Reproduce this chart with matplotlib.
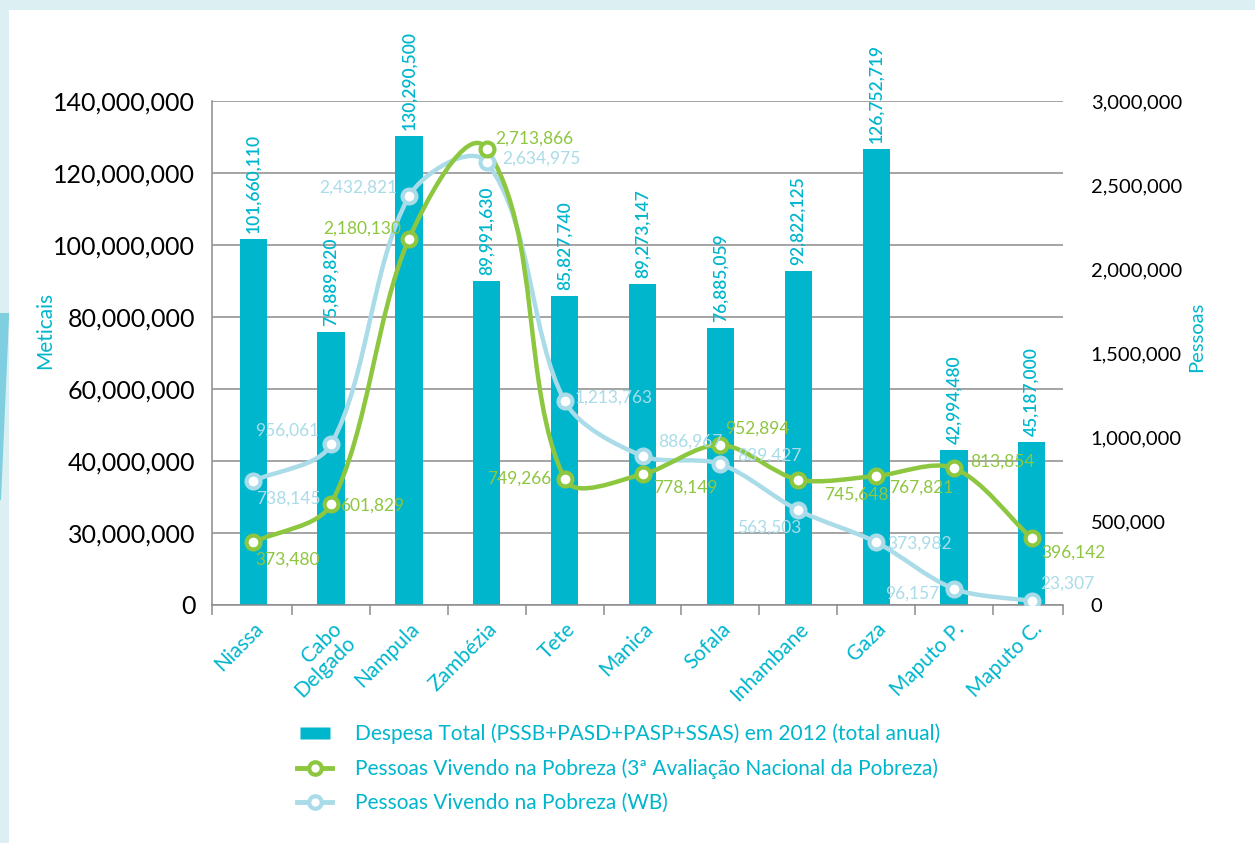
import matplotlib
matplotlib.use('Agg')
import numpy as np
import matplotlib.pyplot as plt
from matplotlib.path import Path
from matplotlib.patches import PathPatch, Rectangle, Polygon
from matplotlib.lines import Line2D

plt.rcParams['font.family'] = ['Lato', 'DejaVu Sans']

# Province data
provincias = ['Niassa', 'Cabo\nDelgado', 'Nampula', 'Zambézia', 'Tete', 'Manica',
              'Sofala', 'Inhambane', 'Gaza', 'Maputo P.', 'Maputo C.']
despesa = [101660110, 75889820, 130290500, 89991630, 85827740, 89273147,
           76885059, 92822125, 126752719, 42994480, 45187000]
pobreza_ian = [373480, 601829, 2180130, 2713866, 749266, 778149,
               952894, 745648, 767821, 813854, 396142]
pobreza_wb = [738145, 956061, 2432821, 2634975, 1213763, 886967,
              839427, 563503, 373982, 96157, 23307]

left_ticks = [0, 20e6, 40e6, 60e6, 80e6, 100e6, 120e6, 140e6]
left_tick_labels = ['0', '30,000,000', '40,000,000', '60,000,000', '80,000,000',
                    '100,000,000', '120,000,000', '140,000,000']
right_ticks = [0, 500000, 1000000, 1500000, 2000000, 2500000, 3000000]

# label offsets (pixels) and alignment for each point label
off_ian = [(2, -17, 'left'), (9, -2, 'left'), (-8, 10, 'right'), (8, 10, 'left'),
           (-13, 0, 'right'), (11, -13, 'left'), (5, 16, 'left'), (26, -15, 'left'),
           (13, -12, 'left'), (16, 7, 'left'), (9, -14, 'left')]
off_wb = [(3, -18, 'left'), (-12, 14, 'right'), (-12, 9, 'right'), (15, 4, 'left'),
          (10, 3, 'left'), (16, 14, 'left'), (17, 8, 'left'), (3, -17, 'right'),
          (11, -1, 'left'), (-15, -5, 'right'), (8, 17, 'left')]

CYAN = '#00b6cd'
GREEN = '#8dc63f'
LIGHT = '#a9dce8'
GRID = '#8c8c8c'


def smooth_path(axis, xs, ys, t=0.3):
    # cubic Bezier through the points, built in screen space so the
    # control arms follow the drawn segment lengths
    pts = axis.transData.transform(np.column_stack([xs, ys]))
    n = len(pts)

    def unit(v):
        d = np.hypot(*v)
        return v / d if d else v

    verts = [pts[0]]
    codes = [Path.MOVETO]
    for i in range(n - 1):
        p0, p1 = pts[i], pts[i + 1]
        seg = np.hypot(*(p1 - p0))
        d0 = unit(p1 - pts[i - 1]) if i > 0 else unit(p1 - p0)
        d1 = unit(pts[i + 2] - p0) if i + 2 < n else unit(p1 - p0)
        verts += [p0 + t * seg * d0, p1 - t * seg * d1, p1]
        codes += [Path.CURVE4] * 3
    verts = axis.transData.inverted().transform(np.array(verts))
    return Path(verts, codes)


W, H = 1255, 843
fig = plt.figure(figsize=(W / 100, H / 100), dpi=100)
fig.patch.set_facecolor('#dcf0f4')
fig.add_artist(Rectangle((9 / W, 0), 1, (H - 10) / H, transform=fig.transFigure,
                         facecolor='white', edgecolor='none', zorder=-5))
fig.add_artist(Polygon([(0, 1 - 313 / H), (9 / W, 1 - 313 / H), (9 / W, 1 - 318 / H),
                        (1 / W, 1 - 500 / H), (0, 1 - 500 / H)], closed=True,
                       transform=fig.transFigure, facecolor='#7fcfe0',
                       edgecolor='none', zorder=-4))

ax = fig.add_axes([212 / W, 238 / H, 851 / W, 504 / H])
ax.patch.set_alpha(0)
x = list(range(len(provincias)))

# bars
ax.bar(x, despesa, width=0.35, color=CYAN, zorder=2)
for xi, v in zip(x, despesa):
    ax.annotate(f'{v:,}', (xi, v), xytext=(0, 6), textcoords='offset pixels',
                rotation=90, ha='center', va='bottom', color=CYAN, fontsize=12.5,
                fontweight='semibold')

ax.set_xlim(-0.53, 10.4)
ax.set_ylim(0, 140e6)
ax.set_yticks(left_ticks)
ax.set_yticklabels(left_tick_labels)
ax.tick_params(axis='y', length=0, pad=12, labelsize=18, labelcolor='black')
ax.yaxis.grid(True, color=GRID, lw=1.1, zorder=0)
ax.set_axisbelow(True)

ax.set_xticks(x)
ax.set_xticklabels(provincias, rotation=45, ha='right', rotation_mode='anchor',
                   color=CYAN, fontsize=15, linespacing=0.95)
ax.tick_params(axis='x', which='major', length=0, pad=10)
ax.set_xticks([-0.53] + [i + 0.5 for i in range(10)] + [10.4], minor=True)
ax.tick_params(axis='x', which='minor', length=7, color=GRID, width=1.1)

for s in ['top', 'right']:
    ax.spines[s].set_visible(False)
for s in ['left', 'bottom']:
    ax.spines[s].set_color(GRID)
    ax.spines[s].set_linewidth(1.1)

# people living in poverty, right axis
ax2 = ax.twinx()
ax2.set_xlim(-0.53, 10.4)
ax2.set_ylim(0, 3e6)
ax2.set_yticks(right_ticks)
ax2.set_yticklabels([f'{t:,}' for t in right_ticks])
ax2.tick_params(axis='y', length=0, pad=20, labelsize=14.5, labelcolor='black')
for s in ax2.spines.values():
    s.set_visible(False)

for vals, col, offs in [(pobreza_wb, LIGHT, off_wb), (pobreza_ian, GREEN, off_ian)]:
    ax2.add_patch(PathPatch(smooth_path(ax2, x, vals), fill=False, edgecolor=col,
                            lw=3.2, capstyle='round', zorder=3))
    ax2.plot(x, vals, 'o', ls='none', ms=10, mfc='white', mec=col, mew=3, zorder=4)
    for xi, v, (dx, dy, ha) in zip(x, vals, offs):
        ax2.annotate(f'{v:,}', (xi, v), xytext=(dx, dy), textcoords='offset pixels',
                     ha=ha, va='center', color=col, fontsize=12.5, zorder=5)

fig.text(45 / W, 1 - 330 / H, 'Meticais', rotation=90, color=CYAN, fontsize=15,
         ha='center', va='center')
fig.text(1197 / W, 1 - 337 / H, 'Pessoas', rotation=90, color=CYAN, fontsize=14.5,
         ha='center', va='center')

# legend: small flat rectangle for the bars, line + ring for the series
bar_marker = [(-1.2, -0.5), (1.2, -0.5), (1.2, 0.5), (-1.2, 0.5), (-1.2, -0.5)]
handles = [
    Line2D([], [], ls='none', marker=bar_marker, ms=21, mfc=CYAN, mec='none'),
    Line2D([], [], color=GREEN, lw=3.5, marker='o', ms=9, mfc='white', mec=GREEN, mew=3),
    Line2D([], [], color=LIGHT, lw=3.5, marker='o', ms=9, mfc='white', mec=LIGHT, mew=3),
]
labels = ['Despesa Total (PSSB+PASD+PASP+SSAS) em 2012 (total anual)',
          'Pessoas Vivendo na Pobreza (3ª Avaliação Nacional da Pobreza)',
          'Pessoas Vivendo na Pobreza (WB)']
fig.legend(handles, labels, loc='upper left', bbox_to_anchor=(287 / W, 1 - 713 / H),
           frameon=False, fontsize=15, labelcolor=CYAN, handlelength=1.65,
           handleheight=0.6, handletextpad=1.1, labelspacing=0.68, borderpad=0)

fig.savefig('out.png', dpi=100)
